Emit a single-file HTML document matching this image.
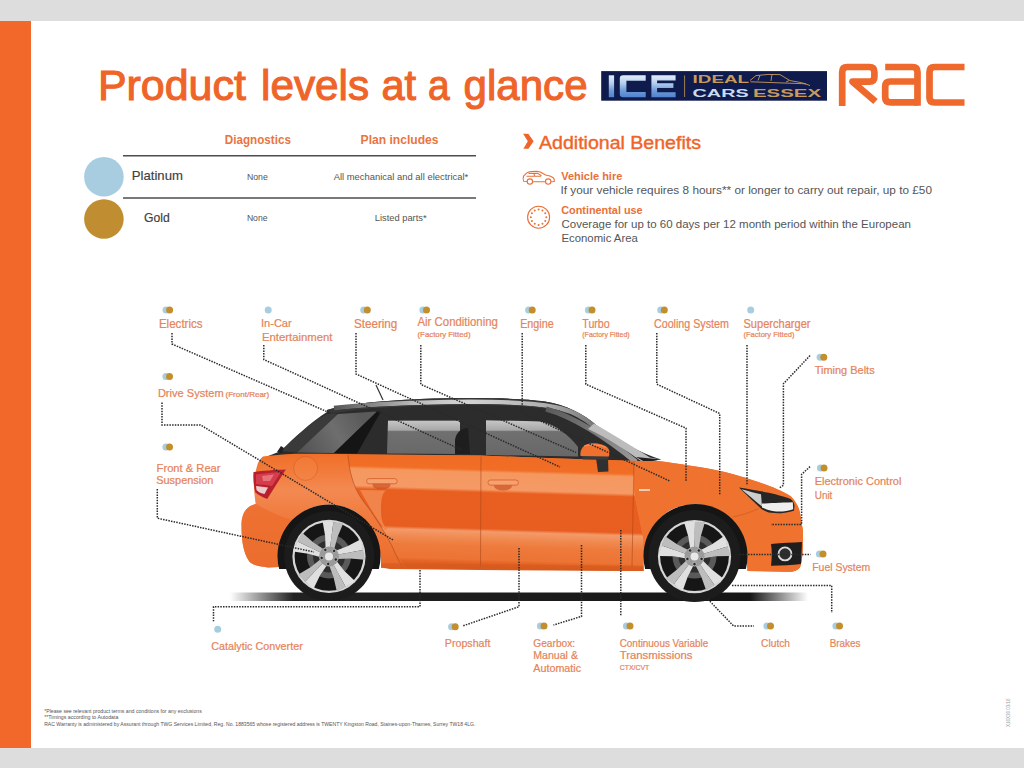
<!DOCTYPE html>
<html><head><meta charset="utf-8"><style>
html,body{margin:0;padding:0;background:#dddddd;width:1024px;height:768px;overflow:hidden}
svg{position:absolute;left:0;top:0;font-family:"Liberation Sans",sans-serif}
</style></head><body>
<svg width="1024" height="768" viewBox="0 0 1024 768">
<rect x="0" y="0" width="1024" height="768" fill="#dddddd"/>
<rect x="31" y="21" width="993" height="727" fill="#ffffff"/>
<rect x="0" y="21" width="31" height="727" fill="#f2672a"/>
<defs>
<linearGradient id="iceg" x1="0" y1="0" x2="0" y2="1">
<stop offset="0" stop-color="#e6eefa"/><stop offset="0.45" stop-color="#a9c6ee"/><stop offset="1" stop-color="#4e82cc"/>
</linearGradient>
<linearGradient id="iceg2" x1="0" y1="75.3" x2="0" y2="97.2" gradientUnits="userSpaceOnUse">
<stop offset="0" stop-color="#e2ecf9"/><stop offset="0.35" stop-color="#b8d0f0"/><stop offset="0.7" stop-color="#6e9ad8"/><stop offset="1" stop-color="#4f84d0"/>
</linearGradient>
</defs>
<rect x="601.2" y="71.1" width="225.8" height="29.6" fill="#0f1b4c"/>
<g fill="url(#iceg2)">
<rect x="608.8" y="75.3" width="5.3" height="21.9"/>
<path d="M619.8,78.6 Q619.8,75.3 623.1,75.3 H645.7 V80.7 H626.4 V91.9 H645.7 V97.2 H623.1 Q619.8,97.2 619.8,93.9 Z"/>
<path d="M651.4,75.3 H675.6 V80.5 H657.1 V83.3 H673.4 V88 H657.1 V92.2 H675.6 V97.2 H651.4 Z"/>
</g>
<line x1="684.6" y1="75.5" x2="684.6" y2="97" stroke="#b28a56" stroke-width="0.9"/>
<text x="692.6" y="83.2" font-size="11.2" font-weight="700" fill="#c89a5c" textLength="56.5" lengthAdjust="spacingAndGlyphs">IDEAL</text>
<text x="692.6" y="96.9" font-size="11.2" font-weight="700" fill="#c9dcf2" textLength="56" lengthAdjust="spacingAndGlyphs">CARS</text>
<text x="753" y="96.9" font-size="11.2" font-weight="700" fill="#c89a5c" textLength="68" lengthAdjust="spacingAndGlyphs">ESSEX</text>
<path d="M750,80.5 L756,75.6 Q768,73.8 780,74.6 L790,80.6 Q803,82.2 810,85.5 M750.5,81.8 L806,83.8 M760,75.2 L758,80.5 M772,74.2 L771,81 M789,80.6 L786,82" fill="none" stroke="#c89a5c" stroke-width="0.9"/>
<g fill="none" stroke="#ee692b" stroke-width="6.7" stroke-linejoin="round">
<path d="M842.2,106 V72 Q842.2,67 847.2,67 H869.4 Q874.4,67 874.4,72 V76.7 Q874.4,81.7 869.4,81.7 H852.5 L875.5,101.5"/>
<path d="M885.2,67 H912.5 Q917.5,67 917.5,72 V105.8"/>
<path d="M917.5,81.5 H890.2 Q885.2,81.5 885.2,86.5 V97.3 Q885.2,102.3 890.2,102.3 H917.5"/>
<path d="M964.5,67 H934.5 Q929.5,67 929.5,72 V97.5 Q929.5,102.5 934.5,102.5 H964.5"/>
</g>
<polygon points="523.1,133.7 528.3,133.7 533.6,141.2 528.5,148.7 523.4,148.7 527.8,141.2" fill="#ef6428"/>
<g fill="none" stroke="#e8703a" stroke-width="1.1">
<path d="M523.6,181.2 Q522.6,178.5 523.6,176 L526.6,173.2 Q528.5,171.5 531,171.5 L537,171.4 Q540.5,171.6 543,173.5 L545.5,175 Q550.5,175.8 553,177.5 Q554.8,179 554.3,181.5 L551.2,181.8 M545,181.8 L533,181.8 M527,181.5 L523.6,181.2"/>
<path d="M526.5,176.2 L541,176.2 M528.5,173.4 L537.5,173.2 L541.5,175.6 M533.8,172.8 L534.5,176"/>
<circle cx="529.9" cy="181.6" r="2.7"/><circle cx="548.2" cy="181.6" r="2.7"/>
<circle cx="538.6" cy="217.2" r="11"/>
</g>
<g fill="#e8703a">
<circle cx="538.6" cy="209.5" r="1"/><circle cx="542.45" cy="210.53" r="1"/><circle cx="545.27" cy="213.35" r="1"/><circle cx="546.3" cy="217.2" r="1"/><circle cx="545.27" cy="221.05" r="1"/><circle cx="542.45" cy="223.87" r="1"/><circle cx="538.6" cy="224.9" r="1"/><circle cx="534.75" cy="223.87" r="1"/><circle cx="531.93" cy="221.05" r="1"/><circle cx="530.9" cy="217.2" r="1"/><circle cx="531.93" cy="213.35" r="1"/><circle cx="534.75" cy="210.53" r="1"/>
</g>

<line x1="123" y1="155.8" x2="476" y2="155.8" stroke="#4d4d4d" stroke-width="1.6"/>
<line x1="123" y1="198" x2="476" y2="198" stroke="#4d4d4d" stroke-width="1.6"/>
<circle cx="103.9" cy="176.8" r="19.8" fill="#a8cde1"/>
<circle cx="103.9" cy="219" r="19.8" fill="#c08e30"/>
<defs>
<linearGradient id="shadowg" x1="230" y1="0" x2="808" y2="0" gradientUnits="userSpaceOnUse">
<stop offset="0" stop-color="#161616" stop-opacity="0"/><stop offset="0.11" stop-color="#161616" stop-opacity="0.95"/><stop offset="0.9" stop-color="#161616" stop-opacity="1"/><stop offset="1" stop-color="#161616" stop-opacity="0"/>
</linearGradient>
<linearGradient id="bodyg" x1="0" y1="455" x2="0" y2="573" gradientUnits="userSpaceOnUse">
<stop offset="0" stop-color="#f0702a"/><stop offset="0.15" stop-color="#f27c3c"/><stop offset="0.3" stop-color="#f38a52"/><stop offset="0.5" stop-color="#f07c40"/><stop offset="0.8" stop-color="#ee7232"/><stop offset="0.93" stop-color="#e86a2a"/><stop offset="1" stop-color="#cc541c"/>
</linearGradient>
<linearGradient id="doorg" x1="0" y1="455" x2="0" y2="575" gradientUnits="userSpaceOnUse" gradientTransform="rotate(1.7 500 510)">
<stop offset="0" stop-color="#f06a22"/><stop offset="0.125" stop-color="#f16e26"/><stop offset="0.15" stop-color="#f5985f"/><stop offset="0.29" stop-color="#f59a66"/><stop offset="0.317" stop-color="#e95f20"/><stop offset="0.617" stop-color="#e75e20"/><stop offset="0.642" stop-color="#f39a6a"/><stop offset="0.7" stop-color="#f08a50"/><stop offset="0.767" stop-color="#ee7a3c"/><stop offset="0.875" stop-color="#ec7434"/><stop offset="0.908" stop-color="#e26222"/><stop offset="0.958" stop-color="#d85a1e"/><stop offset="1" stop-color="#cc541c"/>
</linearGradient>
<linearGradient id="glassg" x1="0" y1="419" x2="0" y2="456" gradientUnits="userSpaceOnUse">
<stop offset="0" stop-color="#3a3a3a"/><stop offset="0.06" stop-color="#c4c4c4"/><stop offset="0.3" stop-color="#a8a8a8"/><stop offset="0.34" stop-color="#707070"/><stop offset="1" stop-color="#686868"/>
</linearGradient>
<linearGradient id="cpillar" x1="296" y1="452" x2="360" y2="414" gradientUnits="userSpaceOnUse">
<stop offset="0" stop-color="#505050"/><stop offset="0.6" stop-color="#6e6e6e"/><stop offset="1" stop-color="#5a5a5a"/>
</linearGradient>
<linearGradient id="apillar" x1="0" y1="0" x2="1" y2="1">
<stop offset="0" stop-color="#5a5a5a"/><stop offset="1" stop-color="#9a9a9a"/>
</linearGradient>
<clipPath id="archclip"><rect x="200" y="440" width="650" height="129"/></clipPath>
</defs>
<rect x="230" y="592.5" width="578" height="8.5" fill="url(#shadowg)"/>
<!-- greenhouse base dark -->
<path d="M263,458 L281,451 C294,438 311,422 327,412 L327,410 C345,404 380,401 420,399 C470,397.3 520,397.8 545,401.5 C566,405 584,414 596,425 C618,440 640,453 661,459.5 L640,463 L263,458.5 Z" fill="#2c2c2c"/>
<!-- roof panel -->
<path d="M327,410 C345,404 380,401 420,399 C470,397.3 520,397.8 545,401.5 C566,405 584,414 596,425 L594,427 C580,417 562,410 545,408 C515,404 470,404 420,405.5 C380,407 350,410 332,414 Z" fill="#363636"/>
<linearGradient id="railg" x1="330" y1="0" x2="600" y2="0" gradientUnits="userSpaceOnUse"><stop offset="0" stop-color="#505050"/><stop offset="0.3" stop-color="#b8b8b8"/><stop offset="0.5" stop-color="#d4d4d4"/><stop offset="0.8" stop-color="#b0b0b0"/><stop offset="1" stop-color="#707070"/></linearGradient>
<path d="M334,408 C370,404 420,402.2 470,401.8 C515,401.8 542,403.6 561,408.4 C575,412 586,419 594,426" fill="none" stroke="url(#railg)" stroke-width="4.6"/>
<path d="M334,411 C370,406.8 420,405 470,404.6 C515,404.6 542,406.4 560,411.2" fill="none" stroke="#3a3a3a" stroke-width="1"/>
<!-- antenna -->
<line x1="376" y1="385" x2="383" y2="400" stroke="#333" stroke-width="1.2"/>
<!-- rear window -->
<path d="M281,451 C294,438 311,422 327,414 L338,414 L297,452.5 Z" fill="#3a3a3a"/>
<!-- c-pillar -->
<path d="M297,452.5 L338,414 L377,411.5 L334,453 Z" fill="url(#cpillar)"/>
<!-- quarter window -->
<path d="M334,453 L377,411.5 L381,411.5 L357,453.5 Z" fill="#151515"/>
<!-- rear door glass -->
<path d="M387,453.5 L388,420.5 L460,420.5 L460,454 Z" fill="url(#glassg)"/>
<path d="M455,454 L455,440 C456,432 462,428 468,428 L470,454 Z" fill="#1e1e1e"/>
<!-- front door glass -->
<path d="M486,455 L486,420 L541,421.5 C555,424.5 568,434 578,447 L578,456.5 Z" fill="url(#glassg)"/>
<!-- A pillar -->
<path d="M546,409 C572,416 606,437 636,462" fill="none" stroke="url(#apillar)" stroke-width="5"/>
<!-- windshield glass -->
<path d="M594,423.5 C616,436 636,449 650,457.5 L661,459.5 L641,461 C624,449 606,437 588,429 Z" fill="#bcbcbc"/>
<path d="M636,457 L661,459.5 L645,462 Z" fill="#1e1e1e"/>
<!-- body -->
<path d="M263,456.5 C285,453.5 300,453.5 320,453.8 L480,455.5 L560,458.5 L640,461 C648,461 654,460.8 658,461 C680,464 700,467 713,469.5 C728,472.5 740,476 749,479 C760,482.5 770,486 776.7,489 C783,492 788,494 791,496.5 C796,502 799,507 800,513 L803,531 L803,542 C803,552 802,561 800,567.5 C797,570.5 794,571.5 790,571.7 L747.5,571 C748,540 728,504 695.5,504 C660,504 643,532 643.5,571 L480,570 L390,569 L381,567.5 C382,530 360,504.5 329,504.5 C298,504.5 278,530 279,567 L268,567.5 C258,566 252,565 249,561 C243,552 241.5,540 241.5,525 C241.5,514 246,506 255.6,504 L254,490 C254,480 255.5,470 258,463 C259.5,460 261,458 263,456.5 Z" fill="url(#bodyg)"/>
<!-- door panels overlay -->
<path d="M347.8,455 C349,462 349.4,470 352,478 C356,492 362,500 370,510 C378,522 386,534 392,546 C395,553 400,560 406,567.5 L643.5,571 L643.5,540 C640,520 636,505 634,490 L634,461 L560,458.5 L480,455.5 Z" fill="url(#doorg)"/>
<path d="M360,490 L386,490.5 C382,493 381,500 381,510 C381,520 383,526 388,529 L385,530 C376,518 368,505 360,490 Z" fill="#f1844a"/>
<!-- rear bumper -->
<path d="M255.6,504 C246,506 241.5,514 241.5,525 C241.5,540 243,552 249,561 C252,565 258,566 268,567.5 L279,567 C279,548 284,530 292,520 C278,516 266,510 255.6,504 Z" fill="#ec6e2e" opacity="0.8"/>
<!-- front fender tone -->
<path d="M634,461 L658,461 C680,464 700,467 713,469.5 C728,472.5 740,476 749,479 C760,482.5 770,486 776.7,489 C783,492 788,494 791,496.5 C796,502 799,507 800,513 L803,531 L803,542 C803,552 802,561 800,567.5 C797,570.5 794,571.5 790,571.7 L747.5,571 C748,540 728,504 695.5,504 C660,504 643,532 643.5,569.8 L643.5,540 C640,520 636,505 634,490 Z" fill="#ef722e"/>

<!-- arch darkness -->
<g clip-path="url(#archclip)">
<circle cx="329" cy="556" r="51.5" fill="#151515"/>
<circle cx="695.5" cy="556" r="52" fill="#151515"/>
</g>
<!-- wiper -->
<path d="M277,452 L281,446 L284,448 L282,453 Z" fill="#222"/>
<!-- tail light -->
<path d="M253.5,472 C262,470.8 275,469.8 285.8,469.5 L267.2,499 C262,497 258,495 255.4,492.3 C253.6,486 253,479 253.5,472 Z" fill="#b8202e"/>
<path d="M256,474.5 C264,473.5 272,472.5 281,472 L272,486 C266,485 260,484.5 256,484 Z" fill="#d84050" opacity="0.9"/>
<path d="M262,476 L274,474.5 L270,481 L263,481 Z" fill="#f08890" opacity="0.7"/>
<path d="M256,486 L268,487.5 L264.5,494 C260,493 257.5,491.5 256.5,490 Z" fill="#f2dede" opacity="0.9"/>
<!-- fuel cap -->
<circle cx="305.6" cy="468.4" r="12" fill="#f48a4a" fill-opacity="0.35" stroke="#c9541c" stroke-width="0.6" stroke-opacity="0.7"/>
<!-- door lines -->
<path d="M347.8,455 C349,462 349.4,470 352,478 C356,492 362,500 370,510 C378,522 386,534 392,546 C395,553 398,560 402,566" fill="none" stroke="#a8441a" stroke-width="0.7" opacity="0.8"/>
<path d="M481,456.5 L480.5,567" fill="none" stroke="#a8441a" stroke-width="0.7" opacity="0.8"/>
<path d="M634,461 L632,567" fill="none" stroke="#a8441a" stroke-width="0.7" opacity="0.8"/>
<!-- sill -->
<path d="M381,563 L643.5,566 L643.5,571 L381,568 Z" fill="#d65a1e" opacity="0.6"/>
<!-- door handles -->
<ellipse cx="381.5" cy="485" rx="9" ry="4.6" fill="#c4481a" opacity="0.6"/>
<rect x="366.6" y="478.6" width="30.6" height="5.2" rx="2.6" fill="#f7a070" stroke="#cc5620" stroke-width="0.7"/>
<ellipse cx="503" cy="486" rx="9" ry="4.6" fill="#c4481a" opacity="0.6"/>
<rect x="488" y="480" width="30.4" height="5.2" rx="2.6" fill="#f7a070" stroke="#cc5620" stroke-width="0.7"/>
<!-- mirror -->
<path d="M596,458 L608,458 L608.4,471.6 L598,472 Z" fill="#303030"/>
<path d="M581,455 L608.4,455 L608.4,459.5 L583,459.5 Z" fill="#3a3a3a"/>
<path d="M580.5,456 C579.5,449 584,443.6 591,443.2 C598.5,442.8 605,444.8 608,448 C610,451 609.8,454 608.8,456.5 Z" fill="#f07030"/><path d="M584,446 C590,444 600,444.5 606,447.5" fill="none" stroke="#f8a070" stroke-width="1.2" opacity="0.7"/>
<!-- headlight -->
<path d="M739,487.4 C750,489 760,491 768.75,492.8 C778,495 786,497 790.6,499 C793,501 794.5,503 794.5,506 L794,510.8 C790,512 786,513 781.25,513.2 C777,513 772,512.8 768.75,512.4 C766,511.5 764,510.5 761.7,509.25 C754,502 746,494 739,487.4 Z" fill="#262626"/>
<path d="M741.5,489.2 C748,491 755,492.8 761,494.2 L762,506.5 C755,500.5 748,495 741.5,489.2 Z" fill="#cdcdcd"/>
<path d="M762,503.5 C770,503.2 780,502.5 792.8,502.2 L793.2,509.2 C788,511 782,511.8 776,511.4 C771,511 766,509.5 762,507.5 Z" fill="#eeeeee"/>
<path d="M758.6,508.5 C752,512 742,515 732.8,517" fill="none" stroke="#c0501c" stroke-width="0.7" opacity="0.7"/>
<!-- fog intake -->
<path d="M771,544 C782,543 792,542.5 802,542 L801,564 C792,565 782,565.5 771,565.7 C772,558 772,550 771,544 Z" fill="#1e1e1e"/>
<circle cx="785" cy="553.9" r="6.5" fill="#2e2e2e" stroke="#dcdcdc" stroke-width="1.8"/>
<!-- badge -->
<path d="M639,490 L650,490" stroke="#f4f4f4" stroke-width="1.4"/>
<!-- tires -->
<circle cx="329.2" cy="556" r="45" fill="#1c1c1c"/>
<circle cx="694.5" cy="556" r="46" fill="#1c1c1c"/>
<circle cx="329" cy="556.4" r="36.6" fill="#d6d6d6"/>
<circle cx="329" cy="556.4" r="34.4" fill="#161616"/>
<circle cx="329" cy="556.4" r="22" fill="#5a5a5a"/>
<circle cx="329" cy="556.4" r="16" fill="#2e2e2e"/>
<polygon points="325.6,549.0 325.1,535.8 322.5,520.8 333.4,522.1 329.8,549.4" fill="#e0e0e0"/>
<polygon points="329.8,549.4 333.4,522.1 343.3,523.2 337.4,537.2 334.0,549.9" fill="#bdbdbd"/>
<polygon points="335.0,550.9 347.4,546.3 360.8,539.2 363.0,550.0 335.9,555.0" fill="#e0e0e0"/>
<polygon points="335.9,555.0 363.0,550.0 365.0,559.8 349.8,558.5 336.7,559.1" fill="#bdbdbd"/>
<polygon points="336.1,560.4 344.2,570.8 355.2,581.3 345.6,586.8 332.4,562.5" fill="#e0e0e0"/>
<polygon points="332.4,562.5 345.6,586.8 336.9,591.7 333.5,576.9 328.8,564.6" fill="#bdbdbd"/>
<polygon points="327.4,564.4 320.1,575.3 313.4,589.0 305.3,581.6 324.3,561.6" fill="#e0e0e0"/>
<polygon points="324.3,561.6 305.3,581.6 297.9,574.8 310.9,567.0 321.2,558.7" fill="#bdbdbd"/>
<polygon points="320.9,557.3 308.2,553.7 293.2,551.6 297.7,541.6 322.6,553.5" fill="#e0e0e0"/>
<polygon points="322.6,553.5 297.7,541.6 301.9,532.5 313.4,542.5 324.4,549.7" fill="#bdbdbd"/>
<circle cx="329" cy="556.4" r="10" fill="#9a9a9a"/>
<circle cx="334.1" cy="550.9" r="1.7" fill="#2a2a2a" stroke="#d0d0d0" stroke-width="0.6"/>
<circle cx="335.8" cy="559.5" r="1.7" fill="#2a2a2a" stroke="#d0d0d0" stroke-width="0.6"/>
<circle cx="328.2" cy="563.9" r="1.7" fill="#2a2a2a" stroke="#d0d0d0" stroke-width="0.6"/>
<circle cx="321.7" cy="557.9" r="1.7" fill="#2a2a2a" stroke="#d0d0d0" stroke-width="0.6"/>
<circle cx="325.3" cy="549.9" r="1.7" fill="#2a2a2a" stroke="#d0d0d0" stroke-width="0.6"/>
<circle cx="329" cy="556.4" r="4" fill="#e8e8e8"/>
<circle cx="694.5" cy="556.6" r="36.6" fill="#d6d6d6"/>
<circle cx="694.5" cy="556.6" r="34.4" fill="#161616"/>
<circle cx="694.5" cy="556.6" r="22" fill="#5a5a5a"/>
<circle cx="694.5" cy="556.6" r="16" fill="#2e2e2e"/>
<polygon points="690.3,549.6 688.3,536.6 684.0,522.0 695.0,522.0 694.5,549.6" fill="#e0e0e0"/>
<polygon points="694.5,549.6 695.0,522.0 705.0,522.0 700.7,536.6 698.7,549.6" fill="#bdbdbd"/>
<polygon points="699.9,550.4 711.6,544.5 724.2,535.9 727.6,546.4 701.2,554.4" fill="#e0e0e0"/>
<polygon points="701.2,554.4 727.6,546.4 730.7,555.9 715.4,556.3 702.5,558.4" fill="#bdbdbd"/>
<polygon points="702.0,559.8 711.3,569.1 723.3,578.4 714.4,584.9 698.6,562.3" fill="#e0e0e0"/>
<polygon points="698.6,562.3 714.4,584.9 706.3,590.8 701.2,576.4 695.2,564.7" fill="#bdbdbd"/>
<polygon points="693.8,564.7 687.8,576.4 682.7,590.8 673.8,584.3 690.4,562.3" fill="#e0e0e0"/>
<polygon points="690.4,562.3 673.8,584.3 665.7,578.4 677.7,569.1 687.0,559.8" fill="#bdbdbd"/>
<polygon points="686.5,558.4 673.6,556.3 658.3,555.9 661.7,545.4 687.8,554.4" fill="#e0e0e0"/>
<polygon points="687.8,554.4 661.7,545.4 664.8,535.9 677.4,544.5 689.1,550.4" fill="#bdbdbd"/>
<circle cx="694.5" cy="556.6" r="10" fill="#9a9a9a"/>
<circle cx="698.9" cy="550.5" r="1.7" fill="#2a2a2a" stroke="#d0d0d0" stroke-width="0.6"/>
<circle cx="701.6" cy="558.9" r="1.7" fill="#2a2a2a" stroke="#d0d0d0" stroke-width="0.6"/>
<circle cx="694.5" cy="564.1" r="1.7" fill="#2a2a2a" stroke="#d0d0d0" stroke-width="0.6"/>
<circle cx="687.4" cy="558.9" r="1.7" fill="#2a2a2a" stroke="#d0d0d0" stroke-width="0.6"/>
<circle cx="690.1" cy="550.5" r="1.7" fill="#2a2a2a" stroke="#d0d0d0" stroke-width="0.6"/>
<circle cx="694.5" cy="556.6" r="4" fill="#e8e8e8"/>

<g fill="none" stroke="#2a2a2a" stroke-width="1.5" stroke-dasharray="1.5 1.2">
<polyline points="172,333 172,344 330,413"/>
<polyline points="263.8,345 263.8,359.5 462,450"/>
<polyline points="356,333 356,374 560,467"/>
<polyline points="420.8,345 420.8,384.4 576,452.5"/>
<polyline points="522.2,333 522.2,412.6 669.7,481"/>
<polyline points="585.8,345 585.8,384.2 686,428.2 686,481"/>
<polyline points="656.8,333 656.8,384.2 719.7,413.5 719.7,495.5"/>
<polyline points="747,345 747,485.3"/>
<polyline points="810,355.6 783.4,383.8 783.4,485.3 778.8,488.4"/>
<polyline points="162,402.6 162,424.9 200.4,424.9 393,540"/>
<polyline points="157.3,489 157.3,518.2 314,552"/>
<polyline points="810,466.6 801.6,474.4 801.6,524.4 771,524.4"/>
<polyline points="740,554.4 810.6,554.4"/>
<polyline points="732,585.6 831.7,585.6 831.7,613"/>
<polyline points="708,599.3 733.6,626 754,626"/>
<polyline points="620.8,530 620.8,615.4"/>
<polyline points="581.5,545 581.5,616.4 553.5,625"/>
<polyline points="519,548 519,606.7 462.6,626"/>
<polyline points="420,570 420,606.7 213.5,606.7 213.5,621.2"/>
</g>
<circle cx="166.0" cy="310" r="3.5" fill="#a9cde0"/><circle cx="169.6" cy="310" r="3.5" fill="#c38f2c"/>
<circle cx="363.7" cy="310" r="3.5" fill="#a9cde0"/><circle cx="367.3" cy="310" r="3.5" fill="#c38f2c"/>
<circle cx="422.9" cy="310" r="3.5" fill="#a9cde0"/><circle cx="426.5" cy="310" r="3.5" fill="#c38f2c"/>
<circle cx="528.6" cy="310" r="3.5" fill="#a9cde0"/><circle cx="532.2" cy="310" r="3.5" fill="#c38f2c"/>
<circle cx="588.4" cy="310" r="3.5" fill="#a9cde0"/><circle cx="592" cy="310" r="3.5" fill="#c38f2c"/>
<circle cx="660.7" cy="310" r="3.5" fill="#a9cde0"/><circle cx="664.3" cy="310" r="3.5" fill="#c38f2c"/>
<circle cx="820.1" cy="357.2" r="3.5" fill="#a9cde0"/><circle cx="823.75" cy="357.2" r="3.5" fill="#c38f2c"/>
<circle cx="165.9" cy="376.5" r="3.5" fill="#a9cde0"/><circle cx="169.5" cy="376.5" r="3.5" fill="#c38f2c"/>
<circle cx="165.9" cy="447.1" r="3.5" fill="#a9cde0"/><circle cx="169.5" cy="447.1" r="3.5" fill="#c38f2c"/>
<circle cx="820.4" cy="468" r="3.5" fill="#a9cde0"/><circle cx="824" cy="468" r="3.5" fill="#c38f2c"/>
<circle cx="819.4" cy="554" r="3.5" fill="#a9cde0"/><circle cx="823" cy="554" r="3.5" fill="#c38f2c"/>
<circle cx="451.6" cy="626.7" r="3.5" fill="#a9cde0"/><circle cx="455.2" cy="626.7" r="3.5" fill="#c38f2c"/>
<circle cx="540.4" cy="626" r="3.5" fill="#a9cde0"/><circle cx="544" cy="626" r="3.5" fill="#c38f2c"/>
<circle cx="626.4" cy="626" r="3.5" fill="#a9cde0"/><circle cx="630" cy="626" r="3.5" fill="#c38f2c"/>
<circle cx="766.9" cy="626" r="3.5" fill="#a9cde0"/><circle cx="770.5" cy="626" r="3.5" fill="#c38f2c"/>
<circle cx="835.9" cy="626" r="3.5" fill="#a9cde0"/><circle cx="839.5" cy="626" r="3.5" fill="#c38f2c"/>
<circle cx="268.2" cy="310" r="3.5" fill="#a9cde0"/>
<circle cx="750.7" cy="310" r="3.5" fill="#a9cde0"/>
<circle cx="217.7" cy="629.3" r="3.5" fill="#a9cde0"/>
<text x="97.91" y="99.70" font-size="43.0" font-weight="400" fill="#ef6428" stroke="#ef6428" stroke-width="1.1" textLength="147.94" lengthAdjust="spacingAndGlyphs">Product</text>
<text x="261.03" y="99.70" font-size="43.0" font-weight="400" fill="#ef6428" stroke="#ef6428" stroke-width="1.1" textLength="108.14" lengthAdjust="spacingAndGlyphs">levels</text>
<text x="381.53" y="99.70" font-size="43.0" font-weight="400" fill="#ef6428" stroke="#ef6428" stroke-width="1.1" textLength="34.61" lengthAdjust="spacingAndGlyphs">at</text>
<text x="427.90" y="99.70" font-size="43.0" font-weight="400" fill="#ef6428" stroke="#ef6428" stroke-width="1.1" textLength="21.63" lengthAdjust="spacingAndGlyphs">a</text>
<text x="463.52" y="99.70" font-size="43.0" font-weight="400" fill="#ef6428" stroke="#ef6428" stroke-width="1.1" textLength="124.05" lengthAdjust="spacingAndGlyphs">glance</text>
<text x="224.80" y="143.80" font-size="13.14" font-weight="700" fill="#ea7440" textLength="66.17" lengthAdjust="spacingAndGlyphs">Diagnostics</text>
<text x="360.60" y="143.80" font-size="13.14" font-weight="700" fill="#ea7440" textLength="77.98" lengthAdjust="spacingAndGlyphs">Plan includes</text>
<text x="131.80" y="180.40" font-size="11.88" font-weight="400" fill="#404040" stroke="#404040" stroke-width="0.15" textLength="51.08" lengthAdjust="spacingAndGlyphs">Platinum</text>
<text x="144.00" y="222.40" font-size="12.03" font-weight="400" fill="#404040" stroke="#404040" stroke-width="0.15" textLength="25.69" lengthAdjust="spacingAndGlyphs">Gold</text>
<text x="246.90" y="179.50" font-size="9.13" font-weight="400" fill="#555" textLength="20.87" lengthAdjust="spacingAndGlyphs">None</text>
<text x="246.90" y="221.40" font-size="8.7" font-weight="400" fill="#555" textLength="20.63" lengthAdjust="spacingAndGlyphs">None</text>
<text x="333.70" y="179.50" font-size="9.13" font-weight="400" fill="#555" textLength="134.54" lengthAdjust="spacingAndGlyphs">All mechanical and all electrical*</text>
<text x="374.70" y="221.40" font-size="8.7" font-weight="400" fill="#555" textLength="51.93" lengthAdjust="spacingAndGlyphs">Listed parts*</text>
<text x="539.00" y="148.70" font-size="18.7" font-weight="400" fill="#ef6428" stroke="#ef6428" stroke-width="0.4" textLength="161.96" lengthAdjust="spacingAndGlyphs">Additional Benefits</text>
<text x="561.20" y="179.70" font-size="11.43" font-weight="700" fill="#e8703a" textLength="61.14" lengthAdjust="spacingAndGlyphs">Vehicle hire</text>
<text x="560.47" y="193.50" font-size="11.45" font-weight="400" fill="#555555" textLength="371.51" lengthAdjust="spacingAndGlyphs">If your vehicle requires 8 hours** or longer to carry out repair, up to £50</text>
<text x="561.20" y="214.20" font-size="10.86" font-weight="700" fill="#e8703a" textLength="81.44" lengthAdjust="spacingAndGlyphs">Continental use</text>
<text x="561.50" y="228.00" font-size="11.01" font-weight="400" fill="#555555" textLength="349.42" lengthAdjust="spacingAndGlyphs">Coverage for up to 60 days per 12 month period within the European</text>
<text x="561.50" y="241.90" font-size="10.43" font-weight="400" fill="#555555" textLength="76.28" lengthAdjust="spacingAndGlyphs">Economic Area</text>
<text x="158.90" y="327.80" font-size="12.03" font-weight="400" fill="#e6845a" stroke="#e6845a" stroke-width="0.22" textLength="43.71" lengthAdjust="spacingAndGlyphs">Electrics</text>
<text x="261.03" y="327.30" font-size="11.45" font-weight="400" fill="#e6845a" stroke="#e6845a" stroke-width="0.22" textLength="30.68" lengthAdjust="spacingAndGlyphs">In-Car</text>
<text x="262.00" y="340.70" font-size="11.74" font-weight="400" fill="#e6845a" stroke="#e6845a" stroke-width="0.22" textLength="70.49" lengthAdjust="spacingAndGlyphs">Entertainment</text>
<text x="354.00" y="327.80" font-size="12.03" font-weight="400" fill="#e6845a" stroke="#e6845a" stroke-width="0.22" textLength="43.26" lengthAdjust="spacingAndGlyphs">Steering</text>
<text x="417.50" y="326.30" font-size="12.75" font-weight="400" fill="#e6845a" stroke="#e6845a" stroke-width="0.22" textLength="80.38" lengthAdjust="spacingAndGlyphs">Air Conditioning</text>
<text x="417.50" y="337.20" font-size="7.8" font-weight="400" fill="#e6845a" stroke="#e6845a" stroke-width="0.22" textLength="53.00" lengthAdjust="spacingAndGlyphs">(Factory Fitted)</text>
<text x="520.20" y="327.80" font-size="12.03" font-weight="400" fill="#e6845a" stroke="#e6845a" stroke-width="0.22" textLength="33.52" lengthAdjust="spacingAndGlyphs">Engine</text>
<text x="582.30" y="327.80" font-size="12.03" font-weight="400" fill="#e6845a" stroke="#e6845a" stroke-width="0.22" textLength="27.42" lengthAdjust="spacingAndGlyphs">Turbo</text>
<text x="582.30" y="337.20" font-size="7.8" font-weight="400" fill="#e6845a" stroke="#e6845a" stroke-width="0.22" textLength="47.34" lengthAdjust="spacingAndGlyphs">(Factory Fitted)</text>
<text x="654.00" y="327.80" font-size="12.03" font-weight="400" fill="#e6845a" stroke="#e6845a" stroke-width="0.22" textLength="74.91" lengthAdjust="spacingAndGlyphs">Cooling System</text>
<text x="743.50" y="327.80" font-size="12.03" font-weight="400" fill="#e6845a" stroke="#e6845a" stroke-width="0.22" textLength="67.00" lengthAdjust="spacingAndGlyphs">Supercharger</text>
<text x="743.50" y="337.20" font-size="7.8" font-weight="400" fill="#e6845a" stroke="#e6845a" stroke-width="0.22" textLength="51.01" lengthAdjust="spacingAndGlyphs">(Factory Fitted)</text>
<text x="814.70" y="374.40" font-size="11.3" font-weight="400" fill="#e6845a" stroke="#e6845a" stroke-width="0.22" textLength="59.96" lengthAdjust="spacingAndGlyphs">Timing Belts</text>
<text x="157.90" y="397.10" font-size="11.59" font-weight="400" fill="#e6845a" stroke="#e6845a" stroke-width="0.22" textLength="65.72" lengthAdjust="spacingAndGlyphs">Drive System</text>
<text x="225.50" y="397.10" font-size="7.4" font-weight="400" fill="#e6845a" stroke="#e6845a" stroke-width="0.22" textLength="43.70" lengthAdjust="spacingAndGlyphs">(Front/Rear)</text>
<text x="156.60" y="472.20" font-size="11.59" font-weight="400" fill="#e6845a" stroke="#e6845a" stroke-width="0.22" textLength="63.96" lengthAdjust="spacingAndGlyphs">Front &amp; Rear</text>
<text x="156.20" y="484.40" font-size="10.87" font-weight="400" fill="#e6845a" stroke="#e6845a" stroke-width="0.22" textLength="57.24" lengthAdjust="spacingAndGlyphs">Suspension</text>
<text x="814.70" y="484.90" font-size="11.16" font-weight="400" fill="#e6845a" stroke="#e6845a" stroke-width="0.22" textLength="86.67" lengthAdjust="spacingAndGlyphs">Electronic Control</text>
<text x="814.70" y="498.70" font-size="11.16" font-weight="400" fill="#e6845a" stroke="#e6845a" stroke-width="0.22" textLength="17.70" lengthAdjust="spacingAndGlyphs">Unit</text>
<text x="812.20" y="571.00" font-size="11.16" font-weight="400" fill="#e6845a" stroke="#e6845a" stroke-width="0.22" textLength="58.07" lengthAdjust="spacingAndGlyphs">Fuel System</text>
<text x="211.20" y="649.70" font-size="11.3" font-weight="400" fill="#e6845a" stroke="#e6845a" stroke-width="0.22" textLength="91.57" lengthAdjust="spacingAndGlyphs">Catalytic Converter</text>
<text x="444.80" y="646.70" font-size="11.45" font-weight="400" fill="#e6845a" stroke="#e6845a" stroke-width="0.22" textLength="45.63" lengthAdjust="spacingAndGlyphs">Propshaft</text>
<text x="533.30" y="646.60" font-size="11.01" font-weight="400" fill="#e6845a" stroke="#e6845a" stroke-width="0.22" textLength="41.85" lengthAdjust="spacingAndGlyphs">Gearbox:</text>
<text x="533.30" y="659.40" font-size="11.01" font-weight="400" fill="#e6845a" stroke="#e6845a" stroke-width="0.22" textLength="44.66" lengthAdjust="spacingAndGlyphs">Manual &amp;</text>
<text x="533.30" y="671.70" font-size="10.72" font-weight="400" fill="#e6845a" stroke="#e6845a" stroke-width="0.22" textLength="47.76" lengthAdjust="spacingAndGlyphs">Automatic</text>
<text x="619.70" y="646.70" font-size="11.16" font-weight="400" fill="#e6845a" stroke="#e6845a" stroke-width="0.22" textLength="88.58" lengthAdjust="spacingAndGlyphs">Continuous Variable</text>
<text x="619.70" y="659.40" font-size="10.87" font-weight="400" fill="#e6845a" stroke="#e6845a" stroke-width="0.22" textLength="72.80" lengthAdjust="spacingAndGlyphs">Transmissions</text>
<text x="619.70" y="670.10" font-size="7.7" font-weight="400" fill="#e6845a" stroke="#e6845a" stroke-width="0.22" textLength="29.63" lengthAdjust="spacingAndGlyphs">CTX/CVT</text>
<text x="761.10" y="647.00" font-size="11.59" font-weight="400" fill="#e6845a" stroke="#e6845a" stroke-width="0.22" textLength="28.89" lengthAdjust="spacingAndGlyphs">Clutch</text>
<text x="829.70" y="647.00" font-size="11.59" font-weight="400" fill="#e6845a" stroke="#e6845a" stroke-width="0.22" textLength="30.82" lengthAdjust="spacingAndGlyphs">Brakes</text>
<text x="44.20" y="712.60" font-size="5.2" font-weight="400" fill="#555" textLength="157.60" lengthAdjust="spacingAndGlyphs">*Please see relevant product terms and conditions for any exclusions</text>
<text x="44.20" y="719.20" font-size="5.2" font-weight="400" fill="#555" textLength="74.18" lengthAdjust="spacingAndGlyphs">**Timings according to Autodata</text>
<text x="44.20" y="725.60" font-size="5.2" font-weight="400" fill="#555" textLength="431.23" lengthAdjust="spacingAndGlyphs">RAC Warranty is administered by Assurant through TWG Services Limited, Reg. No. 1883565  whose registered address is TWENTY Kingston Road, Staines-upon-Thames, Surrey TW18 4LG.</text>
<text x="0" y="0" font-size="4.5" fill="#999" transform="translate(1010,727) rotate(-90)">X16X36 03/16</text>
</svg>
</body></html>
